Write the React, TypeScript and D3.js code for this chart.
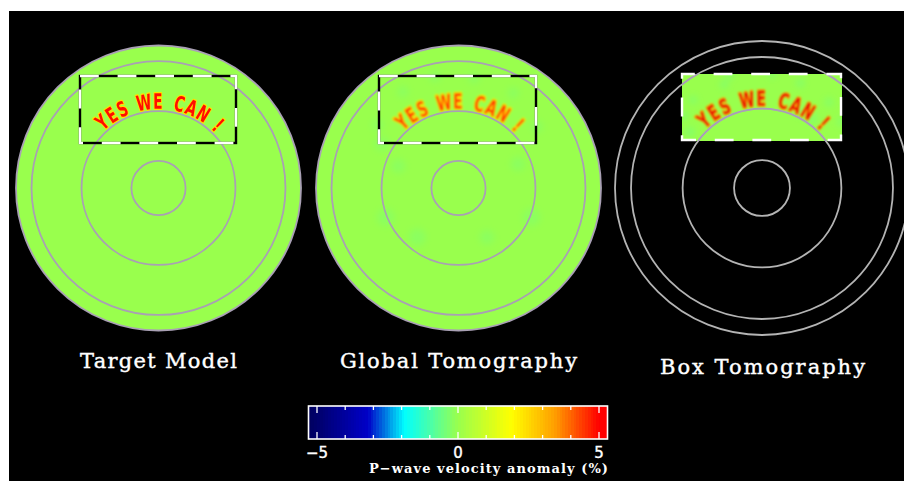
import React from "react";
import * as d3 from "d3";

const ringFractions = [1, 0.891, 0.54, 0.19];
const letters = ["Y", "E", "S", "W", "E", "C", "A", "N", "!"];
const letterAngles = [-40.5, -32.7, -24.6, -9.7, -0.5, 14, 22.3, 31, 43.6];
const letterRadius = 0.61;
const tickValues = [-5, -4, -3, -2, -1, 0, 1, 2, 3, 4, 5];
const tickLabels = [-5, 0, 5];
const colorDomain = [-5.3, -3.2, -1.9, 0, 1.9, 3.4, 5.0, 5.3];
const colorRange = ["#00005c", "#0000c8", "#00ffff", "#99ff4d", "#ffff00", "#ffa000", "#ff0000", "#ff0000"];
const bandEdges = d3.range(-5.3, 5.31, 0.1);
const globalBlobs = [
  [-60, 0.62, 0.05], [-52, 0.72, 0.04], [-30, 0.78, 0.04], [-12, 0.8, 0.04], [8, 0.78, 0.04], [30, 0.77, 0.04],
  [52, 0.7, 0.04], [-112, 0.55, 0.06], [112, 0.55, 0.06], [-140, 0.45, 0.06], [150, 0.4, 0.05], [-70, 0.45, 0.05], [68, 0.45, 0.05],
];
const boxBlobs = [
  [-52, 0.62, 0.03], [-38, 0.76, 0.025], [-20, 0.75, 0.025], [-16, 0.8, 0.025], [5, 0.78, 0.025], [20, 0.76, 0.025],
  [27, 0.58, 0.03], [36, 0.58, 0.03], [38, 0.74, 0.025], [50, 0.7, 0.025], [-47, 0.72, 0.025],
];

const W = 904, H = 481;
const BG = "#99ff4d";
const RING = "#a9a0b4";

function Letters({ cx, cy, R, fill, stroke, sw, filter }: any) {
  const r = d3.scaleLinear().domain([0, 1]).range([0, R]);
  return (
    <g filter={filter}>
      {letters.map((l, i) => {
        const a = ((letterAngles[i] - 90) * Math.PI) / 180;
        const x = cx + r(letterRadius) * Math.cos(a);
        const y = cy + r(letterRadius) * Math.sin(a);
        return (
          <text key={i} textAnchor="middle" fontFamily="'DejaVu Sans'" fontWeight="bold" fontSize={19}
            fill={fill} stroke={stroke} strokeWidth={sw} paintOrder="stroke" strokeLinejoin="round"
            transform={`translate(${x},${y}) rotate(${letterAngles[i]}) scale(0.72,1.12) translate(0,6.9)`}>{l}</text>
        );
      })}
    </g>
  );
}

function Blobs({ cx, cy, R, data, opacity }: any) {
  return (
    <g filter="url(#blobBlur)" opacity={opacity}>
      {data.map((b: number[], i: number) => {
        const a = ((b[0] - 90) * Math.PI) / 180;
        return <circle key={i} cx={cx + b[1] * R * Math.cos(a)} cy={cy + b[1] * R * Math.sin(a)} r={b[2] * R} fill="#55ffaa" />;
      })}
    </g>
  );
}

function Rings({ cx, cy, R, color }: any) {
  const r = d3.scaleLinear().domain([0, 1]).range([0, R]);
  return (
    <g fill="none" stroke={color} strokeWidth={1.8}>
      {ringFractions.map((f, i) => <circle key={i} cx={cx} cy={cy} r={r(f)} />)}
    </g>
  );
}

function DashBox({ x, y, w, h, black }: any) {
  return (
    <g fill="none" strokeWidth={2.4}>
      {black && <rect x={x} y={y} width={w} height={h} stroke="#000" />}
      <rect x={x} y={y} width={w} height={h} stroke="#fff" strokeDasharray="18.8 18.8" strokeDashoffset={black ? 0 : 6} />
    </g>
  );
}

export default function App() {
  const bx = d3.scaleLinear().domain([-5, 5]).range([317, 599]);
  const color = d3.scaleLinear<string>().domain(colorDomain).range(colorRange).interpolate(d3.interpolateRgb);
  const box = { x: 682, y: 74, w: 160, h: 67 };
  return (
    <svg width={W} height={H} style={{ position: "absolute", left: 0, top: 0, background: "#fff" }}>
      <defs>
        <filter id="b1" x="-20%" y="-20%" width="140%" height="140%"><feGaussianBlur stdDeviation="0.6" /></filter>
        <filter id="b2" x="-20%" y="-20%" width="140%" height="140%"><feGaussianBlur stdDeviation="1.3" /></filter>
        <filter id="b3" x="-20%" y="-20%" width="140%" height="140%"><feGaussianBlur stdDeviation="0.8" /></filter>
        <filter id="blobBlur" x="-20%" y="-20%" width="140%" height="140%"><feGaussianBlur stdDeviation="3.5" /></filter>
        <clipPath id="boxClip"><rect x={box.x} y={box.y} width={box.w} height={box.h} /></clipPath>
      </defs>
      <rect x={9} y={11} width={W - 9} height={H - 11} fill="#000" />

      <circle cx={158.5} cy={188} r={142.5} fill={BG} />
      <Letters cx={158.5} cy={188} R={142.5} fill="#ff1000" stroke="#ffe000" sw={2.2} filter="url(#b1)" />
      <Rings cx={158.5} cy={188} R={142.5} color={RING} />
      <DashBox x={80} y={76} w={156} h={67} black />

      <circle cx={458.5} cy={188} r={142.5} fill={BG} />
      <Blobs cx={458.5} cy={188} R={142.5} data={globalBlobs} opacity={0.2} />
      <Letters cx={458.5} cy={188} R={142.5} fill="#ff4000" stroke="#ffe800" sw={2.4} filter="url(#b2)" />
      <Rings cx={458.5} cy={188} R={142.5} color={RING} />
      <DashBox x={379} y={76} w={157} h={67} black />

      <g clipPath="url(#boxClip)">
        <rect x={box.x} y={box.y} width={box.w} height={box.h} fill={BG} />
        <Blobs cx={762} cy={188} R={147} data={boxBlobs} opacity={0.4} />
        <Letters cx={762} cy={188} R={147} fill="#e80800" stroke="#ffb000" sw={2.0} filter="url(#b3)" />
      </g>
      <Rings cx={762} cy={188} R={147} color="#b4b4b4" />
      <g clipPath="url(#boxClip)"><Rings cx={762} cy={188} R={147} color={RING} /></g>
      <DashBox x={box.x} y={box.y} w={box.w - 1} h={box.h - 1} />

      <g fill="#fff" stroke="#fff" strokeWidth={0.4} fontFamily="'DejaVu Serif'" fontSize={21} textAnchor="middle">
        <text x={158.5} y={368} textLength={157}>Target Model</text>
        <text x={458.5} y={368} textLength={237}>Global Tomography</text>
        <text x={762.5} y={374} textLength={205}>Box Tomography</text>
      </g>

      {bandEdges.slice(0, -1).map((e, i) => (
        <rect key={i} x={bx(e)} y={406} width={bx(bandEdges[i + 1]) - bx(e) + 0.5} height={33}
          fill={color((e + bandEdges[i + 1]) / 2)} shapeRendering="crispEdges" />
      ))}
      <rect x={308.5} y={406} width={299} height={33} fill="none" stroke="#fff" strokeWidth={1.6} />
      {tickValues.map((t) => {
        const len = tickLabels.includes(t) ? 7 : 4;
        return (
          <g key={t} stroke="#fff" strokeWidth={1.3}>
            <line x1={bx(t)} x2={bx(t)} y1={406} y2={406 + len} />
            <line x1={bx(t)} x2={bx(t)} y1={439} y2={439 - len} />
          </g>
        );
      })}
      <g fill="#fff" fontFamily="'DejaVu Sans'" fontSize={15} textAnchor="middle">
        {tickLabels.map((t) => <text key={t} x={bx(t)} y={457.5} stroke="#fff" strokeWidth={0.4}>{t === -5 ? "\u22125" : t}</text>)}
      </g>
      <text x={608} y={473} textAnchor="end" fill="#fff" fontFamily="'DejaVu Serif'" fontWeight="bold" fontSize={13} textLength={239}>P{"\u2212"}wave velocity anomaly (%)</text>
    </svg>
  );
}
